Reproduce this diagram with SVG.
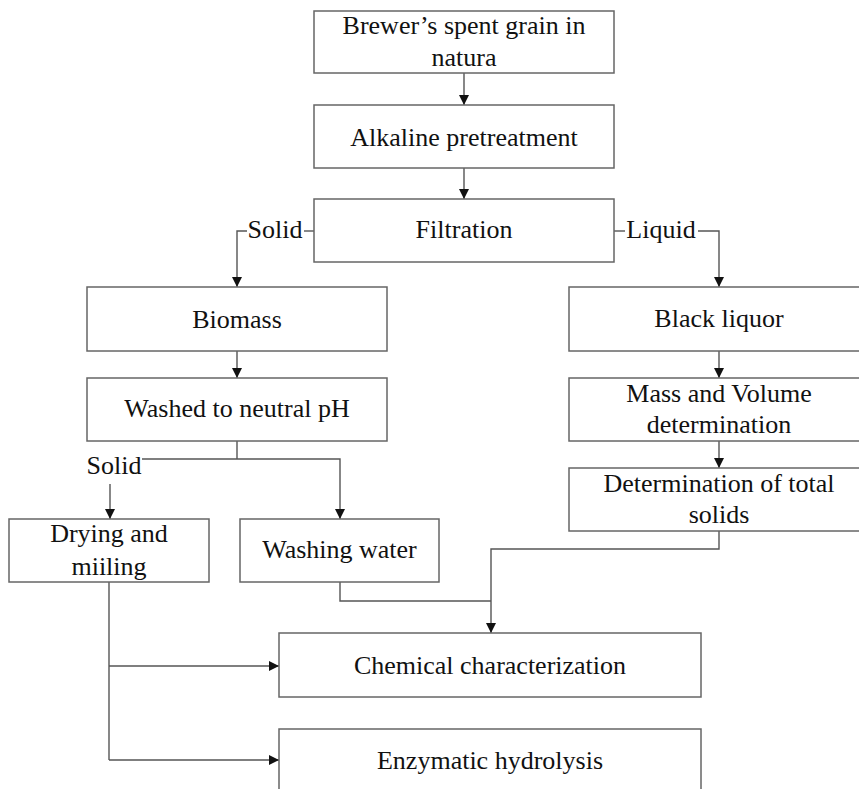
<svg xmlns="http://www.w3.org/2000/svg" width="859" height="789" viewBox="0 0 859 789">
<defs>
<marker id="arr" markerUnits="userSpaceOnUse" markerWidth="10" markerHeight="10" refX="10" refY="5" orient="auto">
<path d="M0,0 L10,5 L0,10 z" fill="#111"/>
</marker>
<style>
.box{fill:#fff;stroke:#666;stroke-width:1.5}
text{font-family:'Liberation Serif','Times New Roman',Times,'DejaVu Serif',serif;font-size:26px;fill:#111;text-anchor:middle}
.c{fill:none;stroke:#555;stroke-width:1.4}
.a{marker-end:url(#arr)}
</style>
</defs>
<rect width="859" height="789" fill="#fff"/>
<g id="connectors">
<path class="c a" d="M464,73 V105"/>
<path class="c a" d="M464,168 V199"/>
<path class="c" d="M314,231 H304"/>
<path class="c a" d="M247,231 H237 V287"/>
<path class="c" d="M614,231 H625"/>
<path class="c a" d="M698,231 H719 V287"/>
<path class="c a" d="M237,351 V378"/>
<path class="c a" d="M719,351 V378"/>
<path class="c a" d="M719,441 V468"/>
<path class="c" d="M237,441 V459"/>
<path class="c a" d="M142,459 H340 V519"/>
<path class="c a" d="M110,484 V519"/>
<path class="c a" d="M719,531 V549 H491 V633"/>
<path class="c" d="M340,582 V601 H491"/>
<path class="c" d="M109,582 V760"/>
<path class="c a" d="M109,666 H279"/>
<path class="c a" d="M109,760 H279"/>
</g>
<g id="n-brewer"><rect class="box" x="314" y="11" width="300" height="62"/><text x="464" y="34">Brewer’s spent grain in</text><text x="464" y="66">natura</text></g>
<g id="n-alkaline"><rect class="box" x="314" y="105" width="300" height="63"/><text x="464" y="146">Alkaline pretreatment</text></g>
<g id="n-filtration"><rect class="box" x="314" y="199" width="300" height="63"/><text x="464" y="238">Filtration</text></g>
<g id="l-solid1"><text x="275" y="238">Solid</text></g>
<g id="l-liquid"><text x="661" y="238">Liquid</text></g>
<g id="n-biomass"><rect class="box" x="87" y="287" width="300" height="64"/><text x="237" y="328">Biomass</text></g>
<g id="n-washed"><rect class="box" x="87" y="378" width="300" height="63"/><text x="237" y="417">Washed to neutral pH</text></g>
<g id="l-solid2"><text x="114" y="474">Solid</text></g>
<g id="n-drying"><rect class="box" x="9" y="519" width="200" height="63"/><text x="109" y="542">Drying and</text><text x="109" y="575">miiling</text></g>
<g id="n-washing"><rect class="box" x="240" y="519" width="199" height="63"/><text x="339.5" y="558">Washing water</text></g>
<g id="n-black"><rect class="box" x="569" y="287" width="300" height="64"/><text x="719" y="327">Black liquor</text></g>
<g id="n-mass"><rect class="box" x="569" y="378" width="300" height="63"/><text x="719" y="402">Mass and Volume</text><text x="719" y="433">determination</text></g>
<g id="n-total"><rect class="box" x="569" y="468" width="300" height="63"/><text x="719" y="492">Determination of total</text><text x="719" y="523">solids</text></g>
<g id="n-chemical"><rect class="box" x="279" y="633" width="422" height="64"/><text x="490" y="674">Chemical characterization</text></g>
<g id="n-enzymatic"><rect class="box" x="279" y="729" width="422" height="64"/><text x="490" y="769">Enzymatic hydrolysis</text></g>
</svg>
